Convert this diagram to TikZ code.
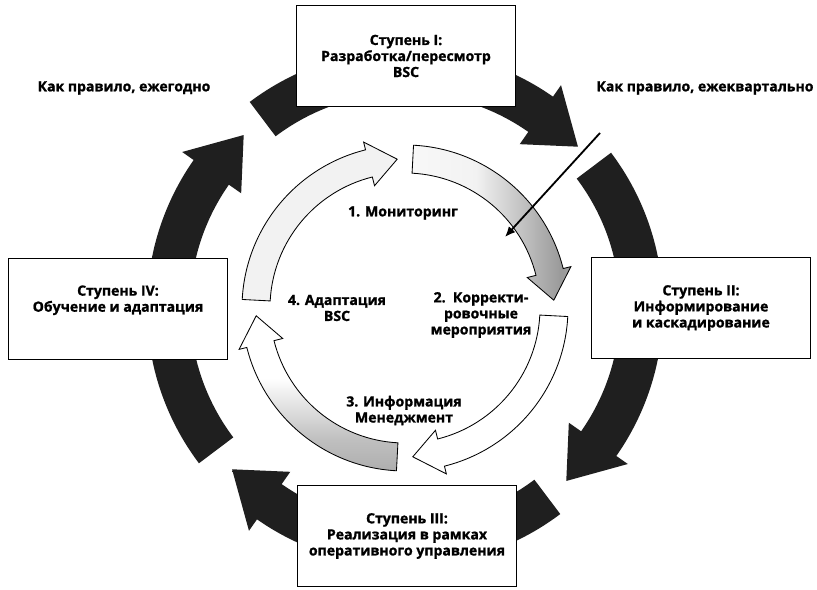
\documentclass[tikz,border=0pt]{standalone}
\usepackage{fontspec}
\setmainfont{Open Sans}[BoldFeatures={FakeBold=1.2}]
\usepackage{tikz}
\usetikzlibrary{arrows.meta, positioning}

% shadings for the scanned grey patches
\pgfdeclareverticalshading{tailfade}{100bp}{color(0bp)=(black!30); color(22bp)=(black!88); color(100bp)=(black!88)}
\pgfdeclarehorizontalshading{headfade}{100bp}{color(0bp)=(black!25); color(12bp)=(black!88); color(100bp)=(black!88)}
\pgfdeclarehorizontalshading{monfade}{100bp}{color(0bp)=(white); color(45bp)=(black!5); color(72bp)=(black!40); color(100bp)=(black!10)}
\pgfdeclareverticalshading{infofade}{100bp}{color(0bp)=(white); color(20bp)=(black!35); color(35bp)=(black!25); color(55bp)=(white); color(100bp)=(white)}

% #1 style, #2 tail angle, #3 head base angle, #4 tip angle, #5/#6 band radii, #7/#8 head radii
\newcommand{\ringarrow}[8]{%
  \path[#1] (#2:#6) arc[start angle=#2, end angle=#3, radius=#6] -- (#3:#8) -- (#4:{(#5+#6)/2})
    -- (#3:#7) -- (#3:#5) arc[start angle=#3, end angle=#2, radius=#5] -- cycle;}

\begin{document}
\begin{tikzpicture}[
    x=0.025cm, y=0.025cm,
    stage/.style={rectangle, draw, line width=1pt, fill=white, minimum width=5.475cm, minimum height=2.525cm, align=center, font=\fontsize{10}{11.4}\selectfont\bfseries},
    note/.style={align=center, font=\fontsize{10}{11.4}\selectfont\bfseries},
    outer/.style={fill=black!88},
    inner/.style={draw, line width=0.6pt, fill=white},
    pointer/.style={-{Latex[length=2.6mm, width=2.2mm]}, line width=1.3pt},
]
\useasboundingbox (-405,-282) rectangle (412,308);
% outer ring
\ringarrow{outer}{127}{55}{43}{215}{258}{200}{272}
\ringarrow{outer}{37}{-35}{-47}{215}{258}{200}{272}
\ringarrow{shading=headfade}{-53}{-125}{-137}{215}{258}{200}{272}
\ringarrow{shading=tailfade}{217}{145}{133}{215}{258}{200}{272}
% stages
\node[stage] (stage1) at (1,252) {Ступень I:\\Разработка/пересмотр\\BSC};
\node[stage] (stage2) at (296,0) {Ступень II:\\Информирование\\и каскадирование};
\node[stage] (stage3) at (2,-228) {Ступень III:\\Реализация в рамках\\оперативного управления};
\node[stage] (stage4) at (-287,-1) {Ступень IV:\\Обучение и адаптация\\\strut};
\node[note] (yearly) at (-281,220) {Как правило, ежегодно};
\node[note] (quarterly) at (300,220) {Как правило, ежеквартально};
% inner ring
\ringarrow{inner, shading=monfade}{87}{14}{3}{135}{163}{126}{171}
\ringarrow{inner}{-3}{-76}{-87}{135}{163}{126}{171}
\ringarrow{inner, shading=infofade}{-93}{-166}{-177}{135}{163}{126}{171}
\ringarrow{inner, fill=black!5}{177}{104}{93}{135}{163}{126}{171}
\node[note] (monitor) at (-2,95) {1. Мониторинг};
\node[note] (correct) at (76,-7) {2.~~Корректи-\\ровочные\\мероприятия};
\node[note] (inform) at (-1,-102.5) {3. Информация\\Менеджмент};
\node[note] (adapt) at (-68,0) {4. Адаптация\\BSC};
\coordinate (ptrstart) at (195,175);
\coordinate (ptrend) at (100,71);
\draw[pointer] (ptrstart) -- (ptrend);
\end{tikzpicture}
\end{document}
